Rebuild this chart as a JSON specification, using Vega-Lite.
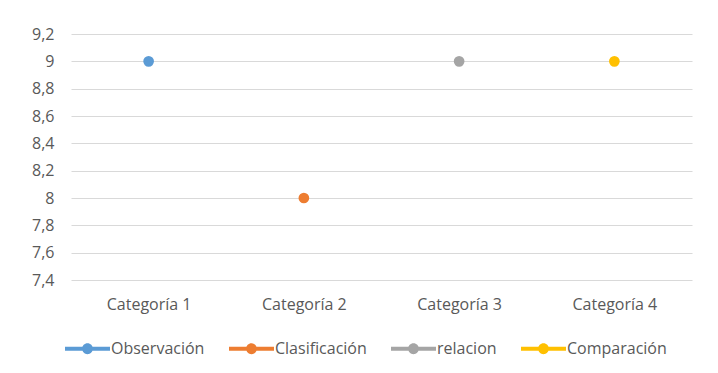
{
  "$schema": "https://vega.github.io/schema/vega-lite/v6.json",
  "width": 621,
  "height": 246,
  "autosize": {"type": "none"},
  "padding": {"left": 71, "top": 34, "right": 26, "bottom": 93},
  "background": "white",
  "config": {
    "view": {"stroke": null},
    "font": "Open Sans",
    "axis": {"labelColor": "#595959", "labelFont": "Open Sans", "labelFontSize": 16},
    "legend": {"labelColor": "#595959", "labelFont": "Open Sans", "labelFontSize": 16}
  },
  "data": {
    "values": [
      {"categoria": "Categoría 1", "serie": "Observación", "valor": 9},
      {"categoria": "Categoría 2", "serie": "Clasificación", "valor": 8},
      {"categoria": "Categoría 3", "serie": "relacion", "valor": 9},
      {"categoria": "Categoría 4", "serie": "Comparación", "valor": 9}
    ]
  },
  "mark": {"type": "point", "filled": true, "opacity": 1, "size": 115},
  "encoding": {
    "x": {
      "field": "categoria",
      "type": "nominal",
      "scale": {"type": "point", "padding": 0.5, "domain": ["Categoría 1", "Categoría 2", "Categoría 3", "Categoría 4"]},
      "axis": {"title": null, "labelAngle": 0, "ticks": false, "domain": false, "grid": false, "labelPadding": 16}
    },
    "y": {
      "field": "valor",
      "type": "quantitative",
      "scale": {"domain": [7.4, 9.2], "nice": false, "zero": false},
      "axis": {
        "title": null,
        "values": [7.4, 7.6, 7.8, 8, 8.2, 8.4, 8.6, 8.8, 9, 9.2],
        "labelExpr": "replace(format(datum.value, '.2~f'), '.', ',')",
        "ticks": false,
        "domain": false,
        "grid": true,
        "gridColor": "#D9D9D9",
        "gridWidth": 1,
        "labelPadding": 17
      }
    },
    "color": {
      "field": "serie",
      "type": "nominal",
      "scale": {
        "domain": ["Observación", "Clasificación", "relacion", "Comparación"],
        "range": ["#5B9BD5", "#ED7D31", "#A5A5A5", "#FFC000"]
      },
      "legend": {
        "title": null,
        "orient": "none",
        "legendX": -6,
        "legendY": 292,
        "direction": "horizontal",
        "symbolType": "M-1,-0.085 L1,-0.085 L1,0.085 L-1,0.085 Z M0.24,0 A0.24,0.24 0 1 1 -0.24,0 A0.24,0.24 0 1 1 0.24,0 Z",
        "symbolSize": 2025,
        "symbolStrokeWidth": 0,
        "symbolOpacity": 1,
        "labelOffset": 1,
        "columnPadding": 24
      }
    }
  }
}
